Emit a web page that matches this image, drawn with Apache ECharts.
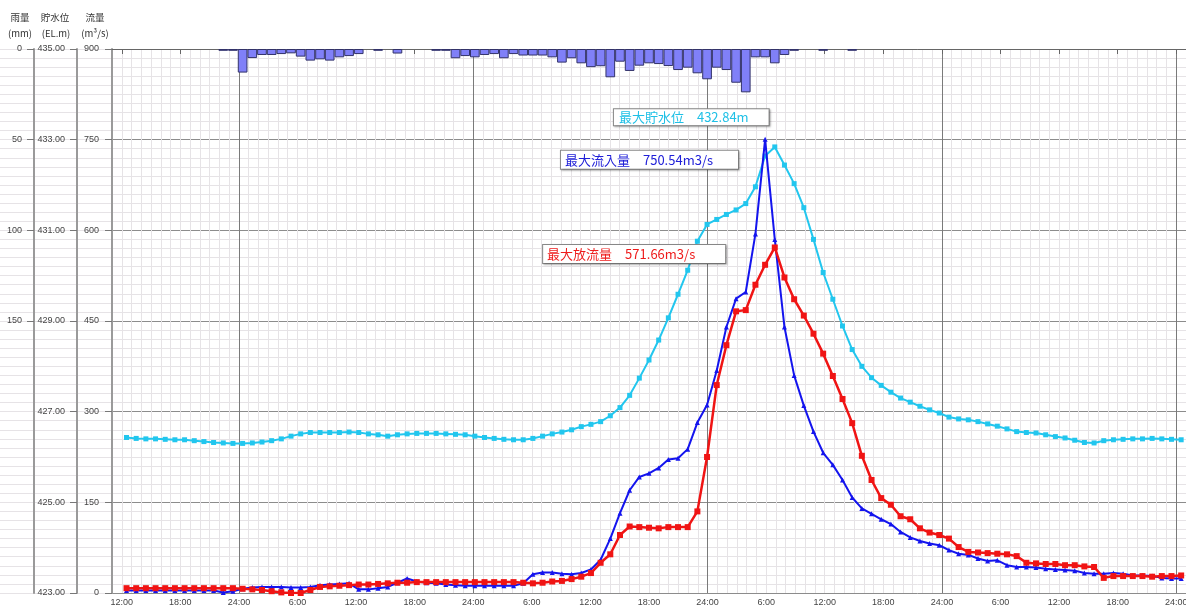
<!DOCTYPE html>
<html>
<head>
<meta charset="utf-8">
<title>貯水位・流量・雨量</title>
<script src="https://cdn.jsdelivr.net/npm/echarts@6/dist/echarts.min.js"></script>
<style>
  html, body { margin: 0; padding: 0; background: #fff; overflow: hidden; }
  #chart { width: 1186px; height: 612px; }
</style>
</head>
<body>
<div id="chart"></div>
<script>
// 1時間毎のデータ (12:00 から 110 点)
const startHour = 12;

// 流入量 (m3/s)
const inflow = [
  4, 4, 4, 4, 4, 4, 4, 4, 4, 4,
  1, 3, 7, 9, 10, 10, 10, 9, 9, 10,
  13, 14, 15, 16, 6, 6, 8, 10, 17, 24,
  19, 17, 16, 14, 13, 12, 12, 12, 12, 12,
  12, 16, 31, 34, 34, 32, 31, 33, 39, 55,
  90, 132, 170, 192, 198, 207, 221, 223, 238, 282,
  311, 368, 440, 487, 498, 594, 750.54, 585, 440, 360,
  310, 267, 232, 212, 187, 158, 140, 131, 122, 114,
  101, 92, 86, 82, 79, 71, 65, 63, 57, 53,
  54, 46, 43, 43, 42, 40, 39, 38, 37, 33,
  32, 32, 33, 32, 29, 29, 28, 25, 24, 24
];

// 放流量 (m3/s)
const outflow = [
  8, 8, 8, 8, 8, 8, 8, 8, 8, 8,
  8, 8, 7, 6, 5, 3, 1, 0, 0, 5,
  10, 11, 12, 13, 14, 14, 15, 16, 17, 17,
  18, 18, 18, 18, 18, 18, 18, 18, 18, 18,
  18, 17, 16, 17, 19, 20, 23, 27, 33, 50,
  64, 96, 110, 109, 108, 107, 109, 109, 109, 135,
  225, 344, 410, 466, 468, 510, 543, 571.66, 522, 486,
  459, 429, 396, 359, 321, 281, 227, 187, 157, 146,
  127, 122, 107, 100, 96, 90, 76, 68, 67, 66,
  65, 64, 61, 50, 49, 48, 48, 46, 46, 44,
  43, 25, 28, 28, 28, 28, 27, 28, 28, 29
];

// 貯水位 (EL.m)
const waterLevel = [
  426.43, 426.41, 426.40, 426.40, 426.39, 426.38, 426.38, 426.36, 426.34, 426.32,
  426.31, 426.30, 426.30, 426.31, 426.33, 426.36, 426.40, 426.46, 426.51, 426.54,
  426.54, 426.54, 426.54, 426.55, 426.54, 426.51, 426.49, 426.46, 426.49, 426.51,
  426.52, 426.52, 426.52, 426.51, 426.50, 426.49, 426.46, 426.43, 426.41, 426.39,
  426.38, 426.38, 426.41, 426.46, 426.51, 426.55, 426.60, 426.67, 426.72, 426.78,
  426.91, 427.09, 427.36, 427.74, 428.14, 428.58, 429.07, 429.59, 430.12, 430.76,
  431.13, 431.24, 431.35, 431.45, 431.59, 431.96, 432.64, 432.84, 432.44, 432.03,
  431.50, 430.80, 430.07, 429.48, 428.89, 428.37, 428.00, 427.75, 427.58, 427.43,
  427.30, 427.21, 427.12, 427.04, 426.97, 426.88, 426.84, 426.82, 426.78, 426.73,
  426.68, 426.62, 426.56, 426.54, 426.53, 426.49, 426.45, 426.42, 426.37, 426.32,
  426.31, 426.36, 426.38, 426.39, 426.40, 426.40, 426.41, 426.40, 426.39, 426.38
];

// 時間雨量 (mm)
const rainfall = [
  null, null, null, null, null, null, null, null, null, null,
  1, 1, 13, 5, 3.3, 3.3, 2.8, 2.4, 4.2, 6.4,
  5.7, 6.4, 4.6, 3.9, 2.8, null, 1, null, 2.5, null,
  null, null, 1, 1, 5.1, 3.9, 4.6, 3.3, 2.8, 5.1,
  2.8, 3.6, 3.6, 3.6, 4.6, 7.5, 5.1, 7.9, 10, 9.5,
  15.6, 7, 12.1, 9.2, 7.9, 8.3, 9.4, 11.6, 10.3, 13.4,
  16.7, 10.3, 11.6, 18.6, 23.9, 4.6, 4.6, 7.9, 3.3, 1,
  null, null, 1, null, null, 1, null, null, null, null,
  null, null, null, null, null, null, null, null, null, null,
  null, null, null, null, null, null, null, null, null, null,
  null, null, null, null, null, null, null, null, null, null
];

const rainTicks = [0, 50, 100, 150];

// データ軸：先頭に空きの 1 枠
const clock = (h) => {
  const c = ((startHour + h) % 24 + 24) % 24;
  return (c === 0 ? 24 : c) + ':00';
};
const dataSlots = [''];
for (let i = 0; i < inflow.length; i++) dataSlots.push(clock(i));
// 時刻軸：-1 時間 〜 +109 時間
const timeSlots = [];
for (let h = -1; h <= 109; h++) timeSlots.push(h);

const pad = (arr) => [null].concat(arr);

const font = '"Noto Sans CJK JP", "Liberation Sans", sans-serif';
const numFont = '"Liberation Sans", sans-serif';
const minorColor = '#e6e3e6';
const majorColor = '#8c8c8c';

const boxLabel = {
  show: true,
  position: 'inside',
  fontFamily: font,
  fontSize: 13,
  backgroundColor: '#fff',
  borderColor: '#8a8a8a',
  borderWidth: 1,
  shadowColor: 'rgba(0,0,0,0.25)',
  shadowBlur: 2,
  shadowOffsetX: 1,
  shadowOffsetY: 1
};

const headText = (text, x, y) => ({
  type: 'text', x: x, y: y,
  style: { text: text, font: '9.5px ' + font, fill: '#333', align: 'center', verticalAlign: 'middle' }
});

const chart = echarts.init(document.getElementById('chart'));

const option = {
  animation: false,
  grid: [
    { left: 112, right: 0, top: 49, bottom: 19, containLabel: false, outerBoundsMode: 'none' },
    // 左の目盛欄の薄い罫線
    { left: 0, width: 112, top: 49, bottom: 19, containLabel: false, outerBoundsMode: 'none', z: 0 }
  ],
  xAxis: [
    {
      // データ用
      type: 'category',
      data: dataSlots,
      boundaryGap: true,
      show: false
    },
    {
      // 時刻目盛
      type: 'category',
      data: timeSlots,
      boundaryGap: false,
      position: 'bottom',
      axisLine: { show: true, lineStyle: { color: '#666', width: 1 } },
      axisTick: {
        show: true,
        length: 5,
        interval: (idx, h) => Number(h) % 6 === 0,
        lineStyle: { color: '#666' }
      },
      axisLabel: {
        interval: (idx, h) => Number(h) % 6 === 0,
        formatter: (h) => clock(Number(h)),
        color: '#444',
        fontSize: 9,
        fontFamily: numFont,
        margin: 5
      },
      splitLine: { show: true, interval: 0, lineStyle: { color: minorColor, width: 1 } }
    },
    {
      // 24:00 の縦線
      type: 'category',
      data: timeSlots,
      boundaryGap: false,
      position: 'top',
      axisLine: { show: false },
      axisTick: { show: false },
      axisLabel: { show: false },
      splitLine: {
        show: true,
        interval: (idx, h) => Number(h) % 24 === 12,
        lineStyle: { color: '#7a7a7a', width: 1 }
      }
    },
    { type: 'value', gridIndex: 1, show: false, min: 0, max: 1 }
  ],
  yAxis: [
    {
      // 流量
      type: 'value',
      min: 0,
      max: 900,
      interval: 150,
      position: 'left',
      axisLine: { show: true, lineStyle: { color: '#9a9a9a', width: 2 } },
      axisTick: { show: true, length: 7, lineStyle: { color: '#777' } },
      axisLabel: { color: '#444', fontSize: 9, fontFamily: numFont, margin: 13 },
      splitLine: { show: true, lineStyle: { color: majorColor, width: 1 } },
      minorTick: { show: false, splitNumber: 10 },
      minorSplitLine: { show: true, lineStyle: { color: minorColor, width: 1 } }
    },
    {
      // 貯水位
      type: 'value',
      min: 423,
      max: 435,
      interval: 2,
      position: 'left',
      offset: 35,
      axisLine: { show: true, lineStyle: { color: '#9a9a9a', width: 2 } },
      axisTick: { show: true, length: 7, lineStyle: { color: '#777' } },
      axisLabel: {
        color: '#444', fontSize: 9, fontFamily: numFont, margin: 12,
        formatter: (v) => v.toFixed(2)
      },
      splitLine: { show: false }
    },
    {
      // 雨量
      type: 'value',
      min: 0,
      max: 300,
      interval: 50,
      inverse: true,
      position: 'left',
      offset: 78,
      axisLine: { show: true, lineStyle: { color: '#9a9a9a', width: 2 } },
      axisTick: { show: true, length: 7, customValues: rainTicks, lineStyle: { color: '#777' } },
      axisLabel: {
        customValues: rainTicks,
        color: '#444', fontSize: 9, fontFamily: numFont, margin: 12,
        formatter: (v) => (v <= 150 ? String(v) : '')
      },
      splitLine: { show: false }
    },
    {
      // 目盛欄の背景罫線
      type: 'value',
      gridIndex: 1,
      min: 0,
      max: 900,
      interval: 150,
      axisLine: { show: false },
      axisTick: { show: false },
      axisLabel: { show: false },
      splitLine: { show: true, lineStyle: { color: minorColor, width: 1 } },
      minorTick: { show: false, splitNumber: 10 },
      minorSplitLine: { show: true, lineStyle: { color: minorColor, width: 1 } }
    }
  ],
  graphic: [
    headText('雨量', 20, 17),
    headText('(mm)', 20, 33),
    headText('貯水位', 55, 17),
    headText('(EL.m)', 56, 33),
    headText('流量', 95, 17),
    headText('(m³/s)', 95, 33)
  ],
  series: [
    {
      name: '雨量',
      type: 'bar',
      xAxisIndex: 0,
      yAxisIndex: 2,
      data: pad(rainfall),
      barWidth: '100%',
      barGap: '0%',
      itemStyle: { color: '#8080f8', borderColor: '#33336a', borderWidth: 1 },
      z: 2
    },
    {
      name: '貯水位',
      type: 'line',
      xAxisIndex: 0,
      yAxisIndex: 1,
      data: pad(waterLevel),
      symbol: 'rect',
      symbolSize: 5,
      lineStyle: { color: '#22c6ee', width: 2 },
      itemStyle: { color: '#22c6ee' },
      z: 3,
      markPoint: {
        symbol: 'rect',
        symbolSize: 0,
        data: [{ type: 'max' }],
        label: Object.assign({}, boxLabel, {
          color: '#1fc0e6',
          padding: [2, 20, 1, 5],
          offset: [-83.5, -29.7],
          formatter: (p) => '最大貯水位\u3000' + Number(p.value).toFixed(2) + 'm'
        }),
        z: 10
      }
    },
    {
      name: '流入量',
      type: 'line',
      xAxisIndex: 0,
      yAxisIndex: 0,
      data: pad(inflow),
      symbol: 'triangle',
      symbolSize: 5,
      lineStyle: { color: '#1414ee', width: 2 },
      itemStyle: { color: '#1414ee' },
      z: 4,
      markPoint: {
        symbol: 'rect',
        symbolSize: 0,
        data: [{ type: 'max' }],
        label: Object.assign({}, boxLabel, {
          color: '#2020d8',
          padding: [3, 25, 2, 4],
          offset: [-115.6, 20.4],
          formatter: (p) => '最大流入量\u3000' + Number(p.value).toFixed(2) + 'm3/s'
        }),
        z: 10
      }
    },
    {
      name: '放流量',
      type: 'line',
      xAxisIndex: 0,
      yAxisIndex: 0,
      data: pad(outflow),
      symbol: 'rect',
      symbolSize: 6,
      lineStyle: { color: '#f01414', width: 2.5 },
      itemStyle: { color: '#f01414' },
      z: 5,
      markPoint: {
        symbol: 'rect',
        symbolSize: 0,
        data: [{ type: 'max' }],
        label: Object.assign({}, boxLabel, {
          color: '#ee1c1c',
          padding: [3, 30, 2, 4],
          offset: [-140.6, 6.5],
          formatter: (p) => '最大放流量\u3000' + Number(p.value).toFixed(2) + 'm3/s'
        }),
        z: 10
      }
    }
  ]
};

chart.setOption(option);
</script>
</body>
</html>
